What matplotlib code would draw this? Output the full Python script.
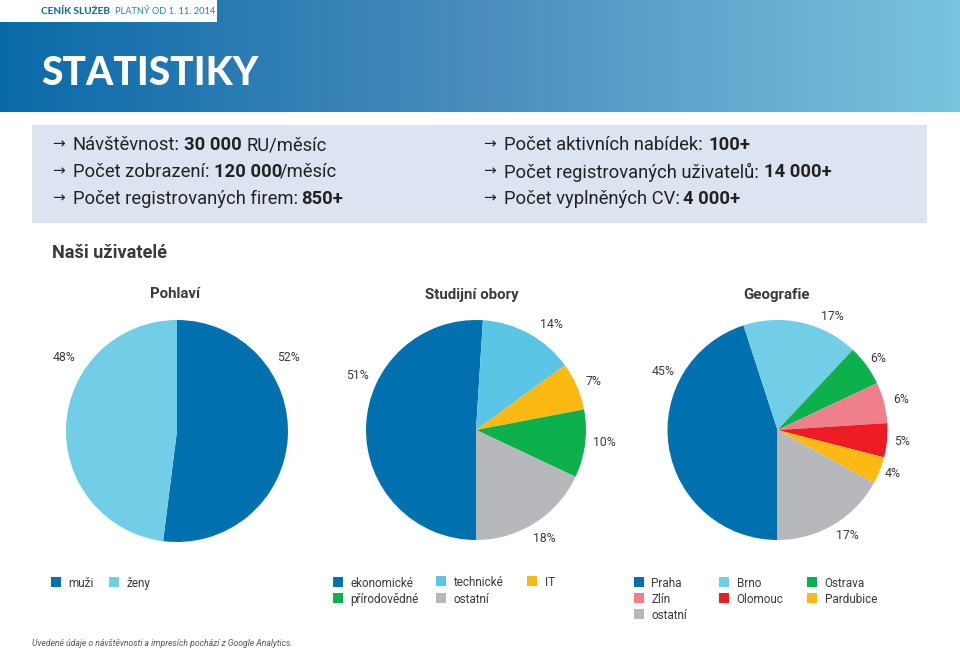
import numpy as np
import matplotlib
matplotlib.use('Agg')
import matplotlib.pyplot as plt
import matplotlib.patches as mpatches
from matplotlib.colors import LinearSegmentedColormap

W, H = 960, 648

# data
gender_labels = ['muži', 'ženy']
gender_values = [52, 48]
study_labels = ['ekonomické', 'technické', 'IT', 'přírodovědné', 'ostatní']
study_values = [51, 14, 7, 10, 18]
geo_labels = ['Praha', 'Brno', 'Ostrava', 'Zlín', 'Olomouc', 'Pardubice', 'ostatní']
geo_values = [45, 17, 6, 6, 5, 4, 17]

BLUE = '#0071ae'
LIGHT = '#72cde6'
SKY = '#5bc5e5'
YELLOW = '#fdb913'
GREEN = '#0db14b'
GREY = '#b6b8bb'
PINK = '#ef7f8a'
RED = '#ed1c24'
gender_colors = [BLUE, LIGHT]
study_colors = [BLUE, SKY, YELLOW, GREEN, GREY]
geo_colors = [BLUE, LIGHT, GREEN, PINK, RED, YELLOW, GREY]

TEXT = '#3a3a3c'
plt.rcParams['font.family'] = ['Roboto', 'DejaVu Sans']

fig = plt.figure(figsize=(W / 100, H / 100), dpi=100)
bg = fig.add_axes([0, 0, 1, 1])
bg.set_xlim(0, W)
bg.set_ylim(H, 0)
bg.axis('off')

# header
cmap = LinearSegmentedColormap.from_list('head', ['#0a6aa8', '#4a8dbd', '#79c4df'])
bg.imshow(np.linspace(0, 1, 256).reshape(1, -1), cmap=cmap, extent=(0, W, 112, 0), aspect='auto')
bg.set_xlim(0, W)
bg.set_ylim(H, 0)
bg.add_patch(mpatches.Rectangle((0, 0), 217, 22, color='white', lw=0))
bg.text(41, 11.5, 'CENÍK SLUŽEB', family='Lato', weight='black', fontsize=7.2, color='#1f6f93', va='center')
bg.text(115, 11.5, 'PLATNÝ OD 1. 11. 2014', family='Lato', fontsize=6.7, color='#2d7fa5', va='center')
bg.text(41, 85, 'STATISTIKY', family='Lato', weight='black', fontsize=28, color='white', va='baseline')

# info panel
bg.add_patch(mpatches.Rectangle((32, 125), 895, 98, color='#dbe4f0', lw=0))
info_rows = [
    (73, 143, [(73, 'Návštěvnost:', 'normal'), (184.5, '30 000', 'bold'), (246, 'RU/měsíc', 'normal')]),
    (73, 170, [(73, 'Počet zobrazení:', 'normal'), (214, '120 000', 'bold'), (280, '/měsíc', 'normal')]),
    (73, 197, [(73, 'Počet registrovaných firem:', 'normal'), (301, '850+', 'bold')]),
    (504, 143, [(504, 'Počet aktivních nabídek:', 'normal'), (708, '100+', 'bold')]),
    (504, 170, [(504, 'Počet registrovaných uživatelů:', 'normal'), (764, '14 000+', 'bold')]),
    (504, 197, [(504, 'Počet vyplněných CV:', 'normal'), (683, '4 000+', 'bold')]),
]
for x0, y, runs in info_rows:
    bg.text(x0 - 21, y, '→', fontsize=11, color='#222222', va='center_baseline')
    for x, s, w in runs:
        bg.text(x, y, s, fontsize=13.2, weight=w, color='#222222', va='center_baseline')

bg.text(52, 251, 'Naši uživatelé', fontsize=13.1, weight='bold', color=TEXT, va='center_baseline')
for x, s in [(175.5, 'Pohlaví'), (472, 'Studijní obory'), (777, 'Geografie')]:
    bg.text(x, 293, s, fontsize=10.8, weight='bold', color=TEXT, ha='center', va='center_baseline')


def draw_pie(values, colors, cx, cy, r, start, label_pos):
    ax = fig.add_axes([(cx - r) / W, 1 - (cy + r) / H, 2 * r / W, 2 * r / H])
    ax.pie(values, colors=colors, startangle=start, counterclock=False,
           wedgeprops={'linewidth': 0})
    ax.set_xlim(-1, 1)
    ax.set_ylim(-1, 1)
    for v, (x, y) in zip(values, label_pos):
        bg.text(x, y, f'{v}%', fontsize=8.8, color=TEXT, ha='center', va='center_baseline')


draw_pie(gender_values, gender_colors, 177, 431, 111, 90, [(288, 356), (64, 356)])
draw_pie(study_values, study_colors, 476, 430, 110, 270,
         [(357, 374), (551, 323), (593, 380), (604, 441), (544, 537)])
draw_pie(geo_values, geo_colors, 777.5, 430, 110, 270,
         [(663, 370), (832, 315), (878, 357), (901, 398), (902, 440), (893, 472), (847, 534)])


def legend_item(x, y, color, label):
    bg.add_patch(mpatches.Rectangle((x, y - 5), 10, 10, color=color, lw=0))
    bg.text(x + 17.5, y, label, fontsize=8.5, color=TEXT, va='center_baseline')


for x, lab, c in zip([51, 109], gender_labels, gender_colors):
    legend_item(x, 582, c, lab)
for (x, y), lab, c in zip([(333, 582), (436, 581), (527, 581), (333, 598), (436, 598)], study_labels, study_colors):
    legend_item(x, y, c, lab)
for (x, y), lab, c in zip([(634, 582), (719, 582), (807, 582), (634, 598), (719, 598), (807, 598), (634, 614)],
                          geo_labels, geo_colors):
    legend_item(x, y, c, lab)

bg.text(32, 642, 'Uvedené údaje o návštěvnosti a impresích pochází z Google Analytics.',
        fontsize=6.2, style='italic', color='#555555', va='center_baseline')

fig.savefig('out.png', dpi=100)
